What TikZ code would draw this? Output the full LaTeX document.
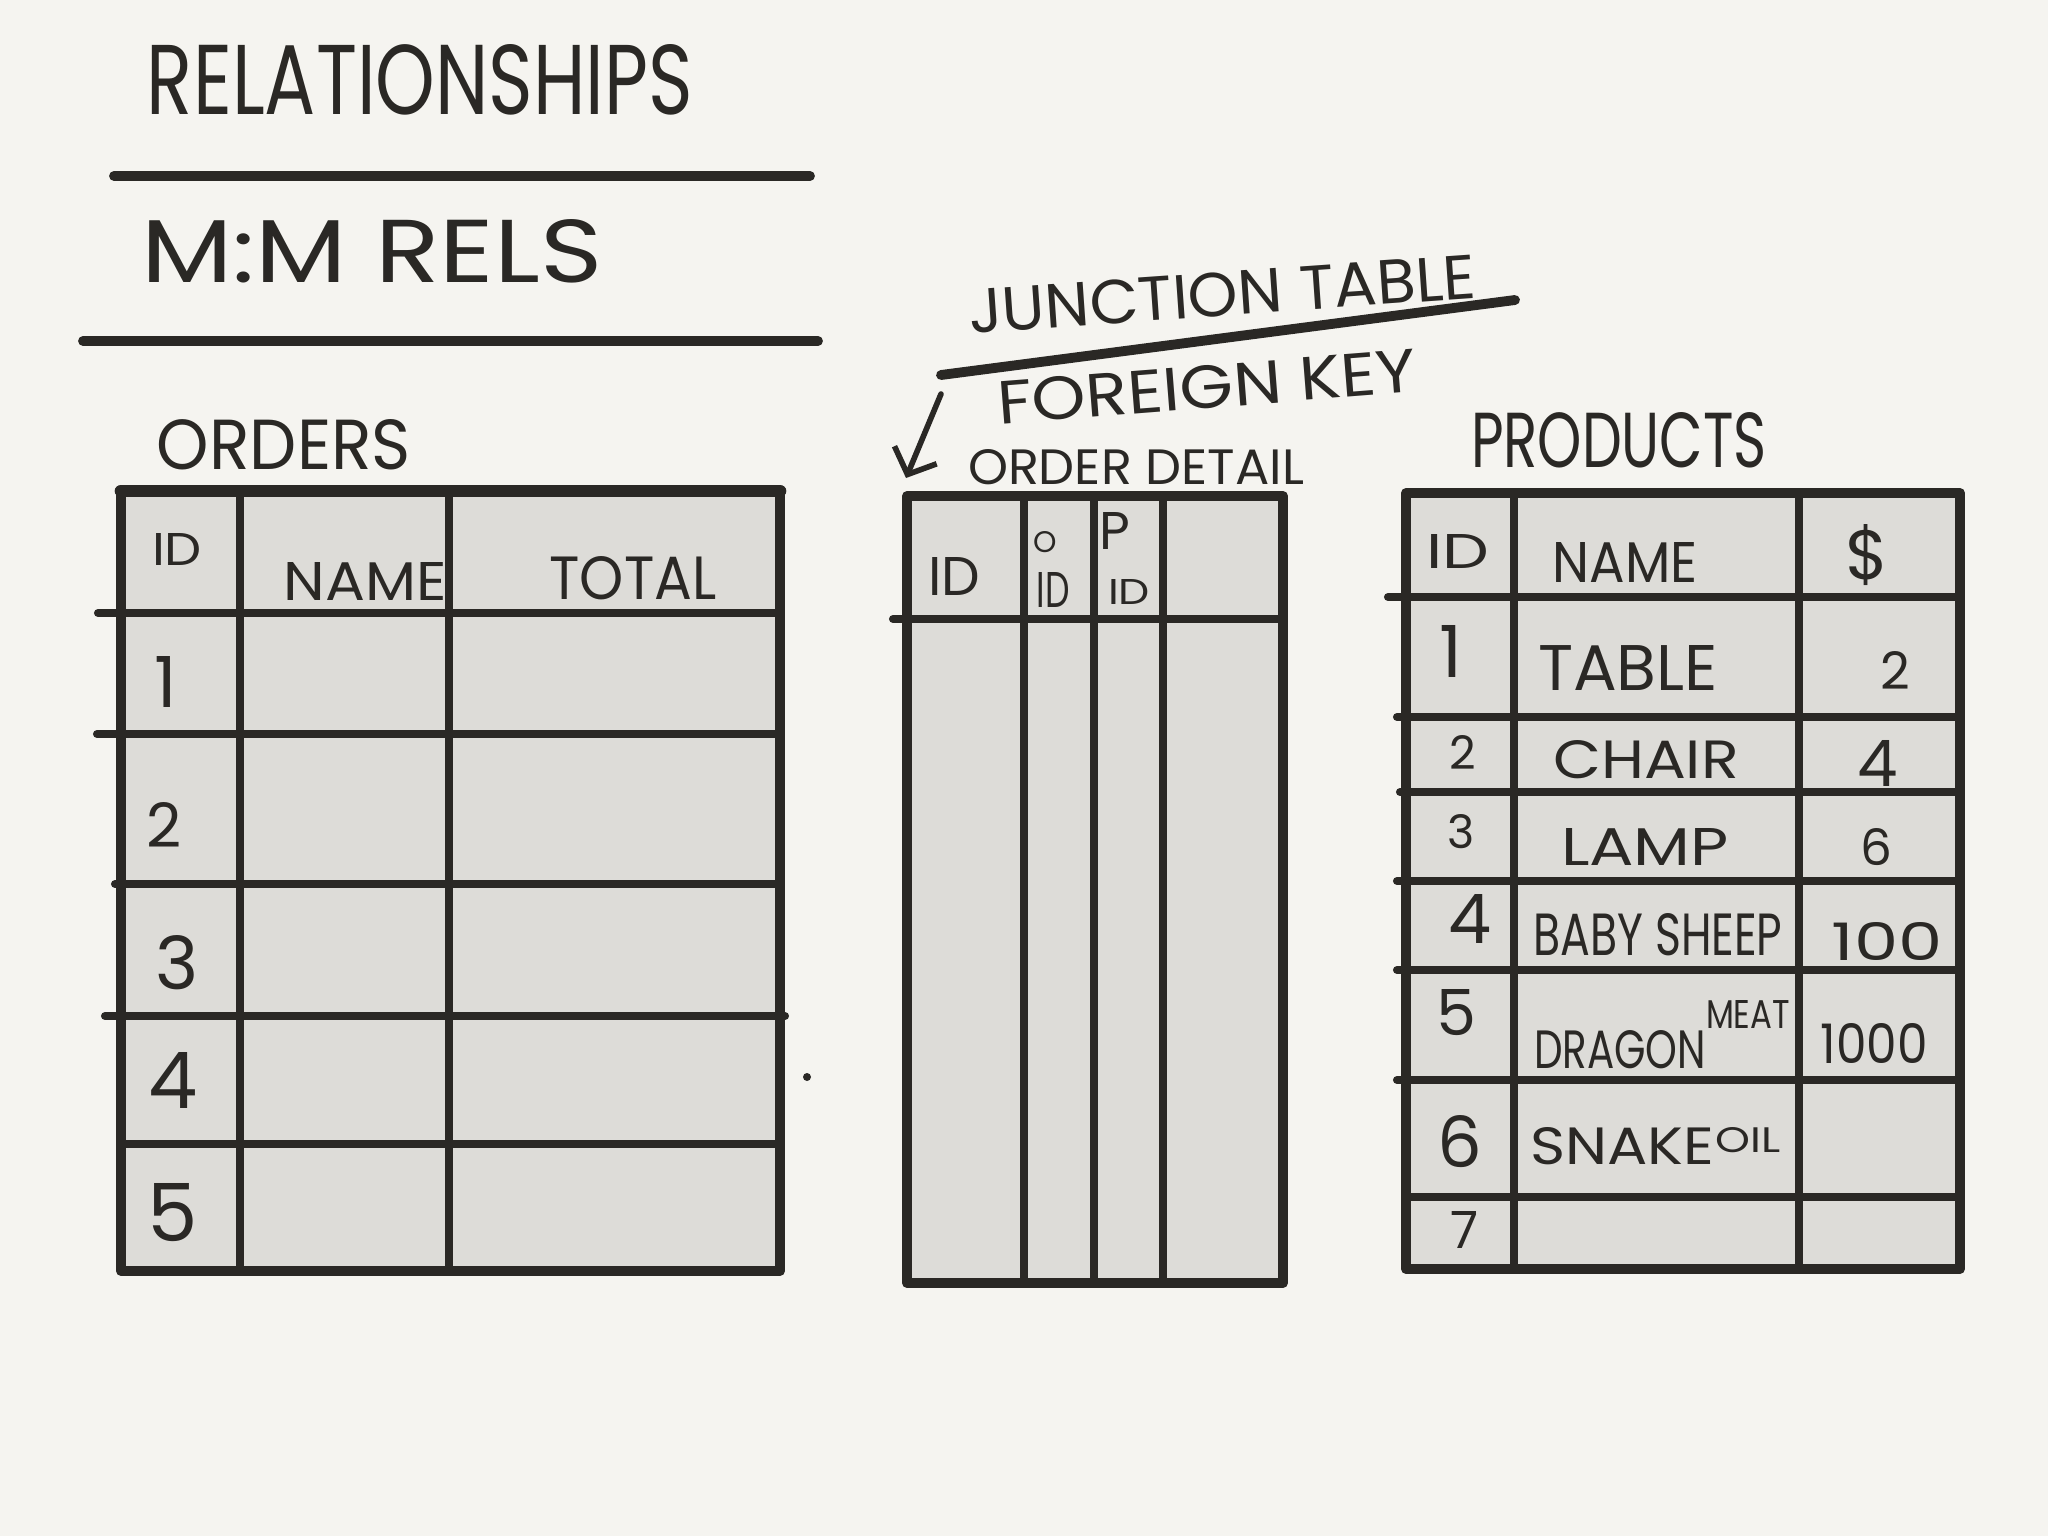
\documentclass[tikz,border=0pt]{standalone}
\usepackage{fontspec}
\setmainfont{Poppins}
\usetikzlibrary{arrows.meta}
\definecolor{paper}{HTML}{F5F4F0}
\definecolor{cell}{HTML}{DDDCD8}
\definecolor{ink}{HTML}{2A2825}
\newlength{\pxu}\setlength{\pxu}{0.01cm}
\newcommand{\hw}[3]{\resizebox{#1\pxu}{#2\pxu}{#3}}
\newcommand{\hh}[2]{\resizebox{!}{#1\pxu}{#2}}
\begin{document}
\begin{tikzpicture}[x=0.01cm, y=-0.01cm,
  hand/.style={inner sep=0pt, text=ink},
  frame/.style={draw=ink, fill=cell, line width=2.8pt, line join=round},
  grid/.style={draw=ink, line width=2.3pt, line cap=round},
  rule/.style={draw=ink, line width=2.8pt, line cap=round}]
\fill[paper] (0,0) rectangle (2048,1536);
\node[hand] (title) at (420,80) {\hw{546}{70}{RELATIONSHIPS}};
\draw[rule] (114,176) -- (810,176);
\node[hand] (mm) at (372,251) {\hw{461}{63}{M:M RELS}};
\draw[rule] (83,341) -- (818,341);
\node[hand] (orders) at (284,445) {\hw{254}{50}{ORDERS}};
\draw[frame] (121,491) rectangle (780,1271);
\draw[ink, line width=3.6pt, line cap=round] (121,491) -- (780,491);
\draw[grid] (240,491) -- (240,1271);
\draw[grid] (449,491) -- (449,1271);
\draw[grid] (98,613) -- (780,613);
\draw[grid] (97,734) -- (780,734);
\draw[grid] (115,884) -- (780,884);
\draw[grid] (105,1016) -- (785,1016);
\draw[grid] (121,1144) -- (780,1144);
\node[hand] (oid) at (177,549) {\hw{50}{32}{ID}};
\node[hand] (oname) at (365,581) {\hw{163}{38}{NAME}};
\node[hand] (ototal) at (633,578) {\hw{167}{43}{TOTAL}};
\node[hand] (o1) at (166,682) {\hh{51}{1}};
\node[hand] (o2) at (164,825) {\hh{45}{2}};
\node[hand] (o3) at (177,963) {\hh{54}{3}};
\node[hand] (o4) at (173,1080) {\hh{56}{4}};
\node[hand] (o5) at (173,1213) {\hh{58}{5}};
\fill[ink] (807,1077) circle (4);
\node[hand, rotate=4] (junction) at (1222,294) {\hw{508}{44}{JUNCTION TABLE}};
\draw[rule] (941,375) -- (1515,300);
\node[hand, rotate=4.5] (fk) at (1207,387) {\hw{420}{43}{FOREIGN KEY}};
\coordinate (fktail) at (941,394);
\coordinate (fktip) at (906,478);
\draw[ink, line width=1.6pt, line cap=round, -{Straight Barb[length=6pt, width=13pt]}] (fktail) -- (fktip);
\node[hand] (detail) at (1136,467) {\hw{336}{35}{ORDER DETAIL}};
\draw[frame] (907,496) rectangle (1283,1283);
\draw[grid] (1024,496) -- (1024,1283);
\draw[grid] (1094,496) -- (1094,1283);
\draw[grid] (1163,496) -- (1163,1283);
\draw[grid] (893,619) -- (1283,619);
\node[hand] (did) at (954,576) {\hw{52}{38}{ID}};
\node[hand] (do) at (1045,542) {\hh{21}{O}};
\node[hand] (doid) at (1053,590) {\hw{33}{35}{ID}};
\node[hand] (dp) at (1115,531) {\hh{37}{P}};
\node[hand] (dpid) at (1129,592) {\hw{42}{25}{ID}};
\node[hand] (products) at (1619,440) {\hw{296}{55}{PRODUCTS}};
\draw[frame] (1406,493) rectangle (1960,1269);
\draw[grid] (1514,493) -- (1514,1269);
\draw[grid] (1799,493) -- (1799,1269);
\draw[grid] (1388,597) -- (1960,597);
\draw[grid] (1397,717) -- (1960,717);
\draw[grid] (1400,792) -- (1960,792);
\draw[grid] (1397,881) -- (1960,881);
\draw[grid] (1397,970) -- (1960,970);
\draw[grid] (1397,1080) -- (1960,1080);
\draw[grid] (1406,1197) -- (1960,1197);
\node[hand] (pid) at (1458,551) {\hw{63}{34}{ID}};
\node[hand] (pname) at (1625,562) {\hw{145}{40}{NAME}};
\node[hand] (pprice) at (1867,555) {\hh{55}{\$}};
\node[hand] (p1) at (1451,651) {\hh{52}{1}};
\node[hand] (p1name) at (1628,668) {\hw{180}{45}{TABLE}};
\node[hand] (p1price) at (1895,670) {\hh{38}{2}};
\node[hand] (p2) at (1463,752) {\hh{34}{2}};
\node[hand] (p2name) at (1646,760) {\hw{186}{38}{CHAIR}};
\node[hand] (p2price) at (1878,763) {\hh{46}{4}};
\node[hand] (p3) at (1461,832) {\hh{34}{3}};
\node[hand] (p3name) at (1645,847) {\hw{168}{37}{LAMP}};
\node[hand] (p3price) at (1876,847) {\hh{37}{6}};
\node[hand] (p4) at (1470,919) {\hh{49}{4}};
\node[hand] (p4name) at (1658,935) {\hw{249}{42}{BABY SHEEP}};
\node[hand] (p4price) at (1887,941) {\hw{111}{38}{100}};
\node[hand] (p5) at (1456,1013) {\hh{46}{5}};
\node[hand] (p5name) at (1620,1050) {\hw{172}{38}{DRAGON}};
\node[hand] (p5meat) at (1748,1014) {\hw{84}{28}{MEAT}};
\node[hand] (p5price) at (1874,1043) {\hw{107}{40}{1000}};
\node[hand] (p6) at (1460,1142) {\hh{52}{6}};
\node[hand] (p6name) at (1622,1146) {\hw{184}{37}{SNAKE}};
\node[hand] (p6oil) at (1748,1140) {\hw{65}{25}{OIL}};
\node[hand] (p7) at (1464,1230) {\hh{37}{7}};
\end{tikzpicture}
\end{document}
